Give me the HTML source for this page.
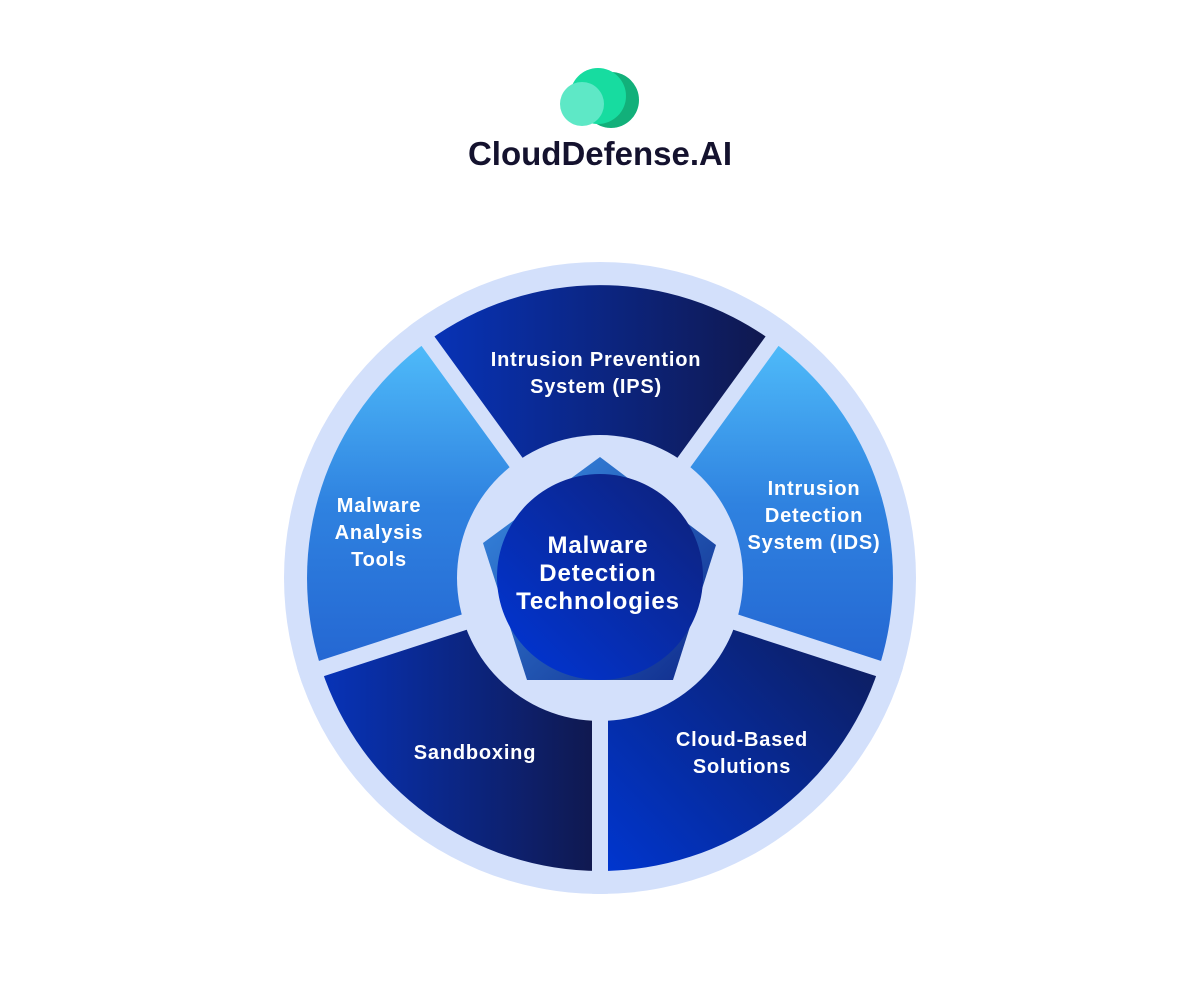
<!DOCTYPE html>
<html><head><meta charset="utf-8"><style>
html,body{margin:0;padding:0;background:#fff;}
svg{display:block;}
text{font-family:"Liberation Sans",sans-serif;}
</style></head><body>
<svg width="1200" height="986" viewBox="0 0 1200 986" xmlns="http://www.w3.org/2000/svg">
<defs>
<linearGradient id="gTop" x1="0" y1="0" x2="1" y2="0"><stop offset="0" stop-color="#0733b8"/><stop offset="1" stop-color="#10184d"/></linearGradient>
<linearGradient id="gLight" x1="0" y1="0" x2="0" y2="1"><stop offset="0" stop-color="#4fbcfa"/><stop offset="0.5" stop-color="#2f82e0"/><stop offset="1" stop-color="#2466d2"/></linearGradient>
<linearGradient id="gBR" x1="0" y1="1" x2="1" y2="0"><stop offset="0" stop-color="#0036d0"/><stop offset="1" stop-color="#101a4e"/></linearGradient>
<linearGradient id="gBL" x1="0" y1="0" x2="1" y2="0"><stop offset="0" stop-color="#0733b8"/><stop offset="1" stop-color="#10184d"/></linearGradient>
<linearGradient id="gC" x1="0" y1="1" x2="1" y2="0"><stop offset="0" stop-color="#0036d8"/><stop offset="1" stop-color="#0f2178"/></linearGradient>
<linearGradient id="gP" x1="0" y1="0" x2="1" y2="1"><stop offset="0" stop-color="#3a8fe6"/><stop offset="1" stop-color="#0f2a8a"/></linearGradient>
<clipPath id="cc"><circle cx="600" cy="578" r="316"/></clipPath>
</defs>
<!-- logo -->
<circle cx="611" cy="100" r="28" fill="#12b07a"/>
<circle cx="598" cy="96" r="28" fill="#17dca0"/>
<circle cx="582" cy="104" r="22" fill="#5ee8c6"/>
<text x="600" y="165" text-anchor="middle" font-size="33" font-weight="bold" fill="#14122e">CloudDefense.AI</text>

<circle cx="600" cy="578" r="316" fill="#d3e0fb"/>
<path d="M600 578 L427.8 341.1 A293 293 0 0 1 772.2 341.1 Z" fill="url(#gTop)"/>
<path d="M600 578 L772.2 341.1 A293 293 0 0 1 878.7 668.5 Z" fill="url(#gLight)"/>
<path d="M600 578 L878.7 668.5 A293 293 0 0 1 600 871 Z" fill="url(#gBR)"/>
<path d="M600 578 L600 871 A293 293 0 0 1 321.3 668.5 Z" fill="url(#gBL)"/>
<path d="M600 578 L321.3 668.5 A293 293 0 0 1 427.8 341.1 Z" fill="url(#gLight)"/>
<g stroke="#d3e0fb" stroke-width="16" clip-path="url(#cc)">
<line x1="600" y1="578" x2="411.9" y2="319.1"/>
<line x1="600" y1="578" x2="788.1" y2="319.1"/>
<line x1="600" y1="578" x2="904.3" y2="676.9"/>
<line x1="600" y1="578" x2="600" y2="898"/>
<line x1="600" y1="578" x2="295.7" y2="676.9"/>
</g>
<circle cx="600" cy="578" r="143" fill="#d3e0fb"/>
<polygon points="600,457 716,545 673,680 527,680 483,543" fill="url(#gP)"/>
<circle cx="600" cy="577" r="103" fill="url(#gC)"/>

<g fill="#fff" font-weight="bold" font-size="20" letter-spacing="0.8" text-anchor="middle">
<text x="596" y="366">Intrusion Prevention</text>
<text x="596" y="393">System (IPS)</text>
<text x="814" y="495">Intrusion</text>
<text x="814" y="522">Detection</text>
<text x="814" y="549">System (IDS)</text>
<text x="379" y="512">Malware</text>
<text x="379" y="539">Analysis</text>
<text x="379" y="566">Tools</text>
<text x="475" y="759">Sandboxing</text>
<text x="742" y="746">Cloud-Based</text>
<text x="742" y="773">Solutions</text>
<g font-size="24" letter-spacing="0.9">
<text x="598" y="553">Malware</text>
<text x="598" y="581">Detection</text>
<text x="598" y="609">Technologies</text>
</g>
</g>
</svg>
</body></html>
